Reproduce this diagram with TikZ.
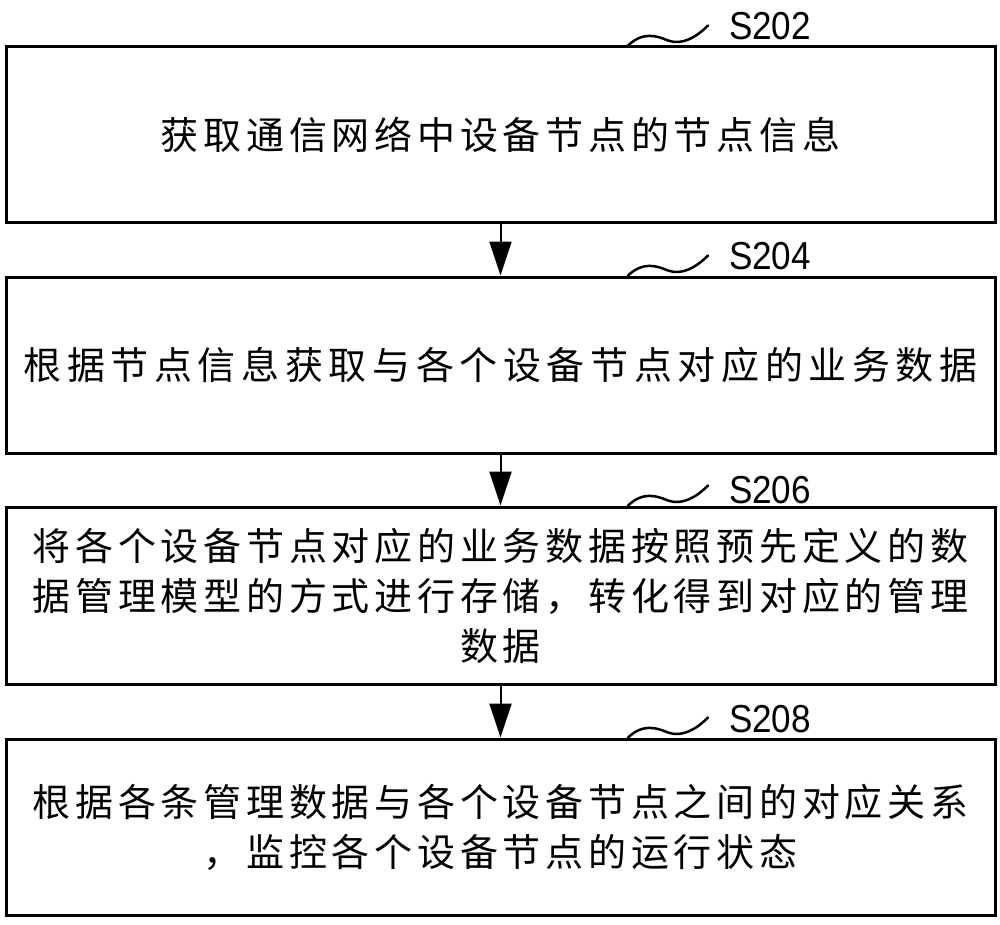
\documentclass[tikz,border=0pt]{standalone}
\usepackage{fontspec}
\usetikzlibrary{arrows.meta}
\newfontfamily\cjk[LetterSpace=12.5]{Noto Sans CJK SC}
\newfontfamily\cjkwide[LetterSpace=14.8]{Noto Sans CJK SC}
\newfontfamily\labfont[FakeStretch=0.9]{Liberation Sans}
\tikzset{
  stepbox/.style={draw=black, line width=3pt, minimum width=989pt, minimum height=176pt,
    inner sep=0pt, align=center, font=\cjk\fontsize{38}{50}\selectfont},
  steplabel/.style={inner sep=0pt, font=\labfont\fontsize{39}{39}\selectfont},
  flowarrow/.style={draw=black, line width=2pt, -{Triangle[length=34pt,width=22pt]}},
  squig/.style={draw=black, line width=2.5pt, line cap=round}
}
\begin{document}
\begin{tikzpicture}[x=1pt, y=-1pt]
\useasboundingbox (0,0) rectangle (1000,925);

\node[stepbox] (b1) at (500.5,135) {获取通信网络中设备节点的节点信息};
\node[stepbox, font=\cjkwide\fontsize{38}{50}\selectfont] (b2) at (500.5,365) {根据节点信息获取与各个设备节点对应的业务数据};
\node[stepbox, minimum height=177pt] (b3) at (500.5,595.5) {将各个设备节点对应的业务数据按照预先定义的数\\据管理模型的方式进行存储，转化得到对应的管理\\数据};
\node[stepbox] (b4) at (500.5,827) {根据各条管理数据与各个设备节点之间的对应关系\\，监控各个设备节点的运行状态};

\node[steplabel] (l1) at (770,26) {S202};
\node[steplabel] (l2) at (770,256) {S204};
\node[steplabel] (l3) at (770,490) {S206};
\node[steplabel] (l4) at (770,719) {S208};

\foreach \b in {b1,b2,b3,b4}{
  \draw[squig] ([xshift=127.5pt]\b.north) .. controls +(15,-14) and +(-12,-5) .. ++(40,-5)
      .. controls +(14,5) and +(-12,12) .. ++(40,-15);
}

\draw[flowarrow] (b1.south) -- (b2.north);
\draw[flowarrow] (b2.south) -- (b3.north);
\draw[flowarrow] (b3.south) -- (b4.north);
\end{tikzpicture}
\end{document}
